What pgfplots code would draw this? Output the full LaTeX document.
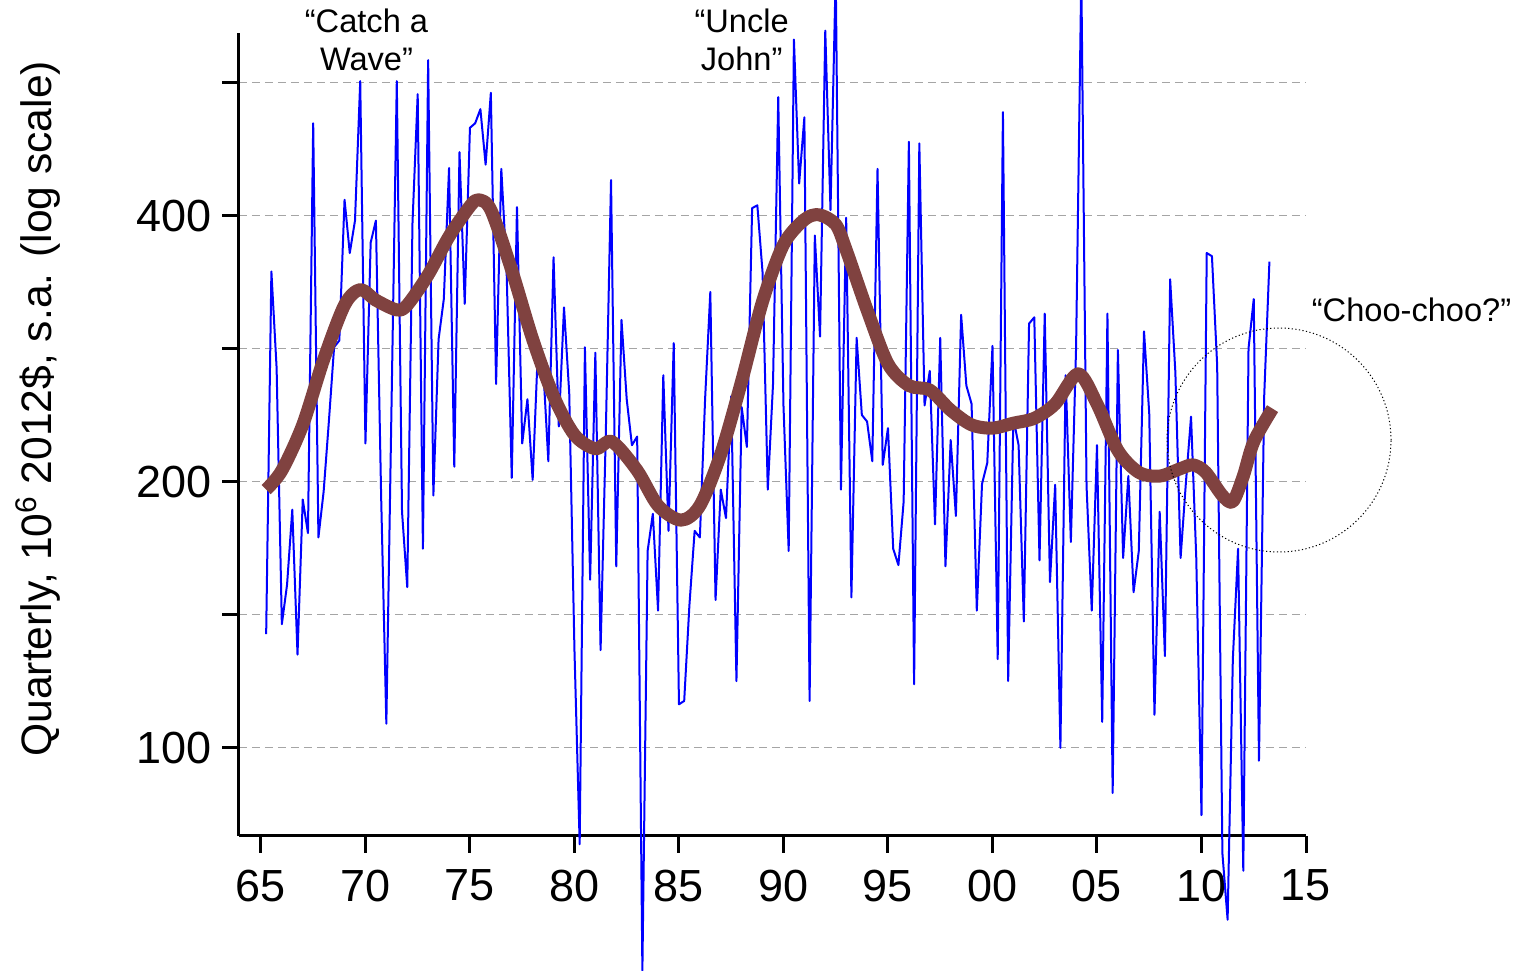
\documentclass[border=0pt]{standalone}
\usepackage{fontspec}
\setmainfont{Liberation Sans}
\usepackage{pgfplots}
\pgfplotsset{compat=1.18}
\usetikzlibrary{calc}
\definecolor{hpbrown}{RGB}{128,66,64}
\definecolor{gridgray}{RGB}{165,165,165}

\begin{document}
\begin{tikzpicture}
\begin{axis}[name=ax, scale only axis, width=533.5pt, height=401.5pt,
  xmin=1963.95, xmax=2015, ymode=log, ymin=79.5, ymax=644,
  axis lines=left, axis line style={-, line width=1.5pt},
  tick align=outside, major tick length=8.5pt, tick style={line width=1.5pt, black},
  xtick={1965,1970,...,2015}, xticklabels={65,70,75,80,85,90,95,00,05,10,15},
  ytick={100,141.42,200,282.84,400,565.69}, yticklabels={100,,200,,400,},
  yminorticks=false, xminorticks=false,
  ymajorgrids, grid style={gridgray, line width=0.6pt, dash pattern=on 4pt off 2.5pt},
  tick label style={font=\fontsize{22.5}{26}\selectfont},
  xticklabel style={yshift=-5pt},
  yticklabel style={xshift=-1.5pt},
  clip=false,
  ylabel={Quarterly, 10\textsuperscript{6} 2012\$, s.a. (log scale)},
  ylabel style={at={(axis description cs:-0.188,0.532)}, anchor=center, rotate=0,
    font=\fontsize{21.3}{25}\selectfont},
]
% quarterly series
\addplot[blue, line width=1pt, line join=round] coordinates {
(1965.25,134.5)(1965.50,346)(1965.75,269)(1966.00,138)(1966.25,153)(1966.50,186)(1966.75,127.5)(1967.00,191)
(1967.25,175)(1967.50,509)(1967.75,173)(1968.00,195)(1968.25,234)(1968.50,284)(1968.75,289)(1969.00,417)
(1969.25,363)(1969.50,395)(1969.75,568)(1970.00,221)(1970.25,373)(1970.50,395)(1970.75,193)(1971.00,106.5)
(1971.25,246)(1971.50,568)(1971.75,185)(1972.00,152)(1972.25,392)(1972.50,549)(1972.75,168)(1973.00,600)
(1973.25,193)(1973.50,290)(1973.75,322)(1974.00,453)(1974.25,208)(1974.50,472)(1974.75,318)(1975.00,503)
(1975.25,509)(1975.50,528)(1975.75,457)(1976.00,551)(1976.25,258)(1976.50,452)(1976.75,350)(1977.00,202)
(1977.25,409)(1977.50,221)(1977.75,248)(1978.00,201)(1978.25,282)(1978.50,271)(1978.75,211)(1979.00,359)
(1979.25,231)(1979.50,315)(1979.75,252)(1980.00,129)(1980.25,77.8)(1980.50,284)(1980.75,155)(1981.00,280)
(1981.25,129)(1981.50,227)(1981.75,439)(1982.00,160.5)(1982.25,305)(1982.50,248)(1982.75,220)(1983.00,225)
(1983.25,56)(1983.50,167)(1983.75,184)(1984.00,143)(1984.25,264)(1984.50,176)(1984.75,287)(1985.00,112)
(1985.25,113)(1985.50,145)(1985.75,176)(1986.00,173)(1986.25,248)(1986.50,328)(1986.75,147)(1987.00,196)
(1987.25,182)(1987.50,250)(1987.75,119)(1988.00,243)(1988.25,219)(1988.50,408)(1988.75,411)(1989.00,345)
(1989.25,196)(1989.50,258)(1989.75,545)(1990.00,244)(1990.25,167)(1990.50,633)(1990.75,435)(1991.00,517)
(1991.25,113)(1991.50,380)(1991.75,292)(1992.00,648)(1992.25,406)(1992.50,750)(1992.75,196)(1993.00,398)
(1993.25,148)(1993.50,291)(1993.75,238)(1994.00,234)(1994.25,211)(1994.50,452)(1994.75,209)(1995.00,230)
(1995.25,168)(1995.50,161)(1995.75,190)(1996.00,485)(1996.25,118)(1996.50,483)(1996.75,244)(1997.00,267)
(1997.25,179)(1997.50,291)(1997.75,160.5)(1998.00,223)(1998.25,183)(1998.50,309)(1998.75,257)(1999.00,245)
(1999.25,143)(1999.50,199)(1999.75,210)(2000.00,285)(2000.25,126)(2000.50,524)(2000.75,119)(2001.00,236)
(2001.25,220)(2001.50,139)(2001.75,302)(2002.00,307)(2002.25,163)(2002.50,310)(2002.75,154)(2003.00,198.5)
(2003.25,100)(2003.50,264)(2003.75,171)(2004.00,284)(2004.25,750)(2004.50,198)(2004.75,143)(2005.00,220)
(2005.25,107)(2005.50,310)(2005.75,88.9)(2006.00,282)(2006.25,164)(2006.50,203)(2006.75,150)(2007.00,167)
(2007.25,296)(2007.50,239)(2007.75,109)(2008.00,185)(2008.25,127)(2008.50,339)(2008.75,266)(2009.00,164)
(2009.25,199)(2009.50,237)(2009.75,164)(2010.00,83.9)(2010.25,363)(2010.50,360)(2010.75,271)(2011.00,76)
(2011.25,63.9)(2011.50,126)(2011.75,168)(2012.00,72.6)(2012.25,283)(2012.50,322)(2012.75,96.7)(2013.00,250)
(2013.25,355)
};
% smoothed trend
\addplot[hpbrown, line width=6.5pt, smooth, line join=round] coordinates {
(1965.25,196)(1966.0,206)(1967.0,232)(1968.0,275)(1969.0,317)(1969.75,330)(1970.5,321)(1971.5,313)
(1972.0,317)(1973.0,343)(1974.0,379)(1975.0,410)(1975.4,417)(1976.0,406)(1977.0,347)(1978.0,290)
(1979.0,250)(1980.0,226)(1981.0,218)(1981.8,222)(1983.0,206)(1984.0,188)(1985.1,181)(1986.0,188)
(1987.0,215)(1988.0,260)(1989.0,320)(1990.0,371)(1991.0,396)(1991.7,401)(1992.5,391)(1993.0,366)
(1994.0,313)(1995.0,272)(1996.0,257)(1997.0,254)(1998.0,241)(1999.0,232)(2000.0,230)(2001.0,233)
(2002.0,236)(2003.0,245)(2004.1,265)(2005.0,245)(2006.0,217)(2007.0,205)(2008.0,203)(2009.0,207)
(2009.6,209)(2010.2,205)(2011.0,193)(2011.5,190)(2012.0,203)(2012.5,222)(2013.4,242)
};
\node[align=center, font=\fontsize{16.3}{19}\selectfont] at (axis cs:1970.05,633) {“Catch a\\Wave”};
\node[align=center, font=\fontsize{16.3}{19}\selectfont] at (axis cs:1988.0,633) {“Uncle\\John”};
\node[font=\fontsize{16.3}{19}\selectfont] at (axis cs:2020.05,313) {“Choo-choo?”};
\draw[black, line width=0.5pt, dash pattern=on 0.6pt off 1.2pt] (axis cs:2013.71,223) circle[radius=56pt];
\end{axis}
\pgfresetboundingbox
\path[use as bounding box] ($(ax.south west)+(-119.5pt,-67.5pt)$) rectangle ($(ax.north east)+(104pt,16.5pt)$);
\end{tikzpicture}
\end{document}
